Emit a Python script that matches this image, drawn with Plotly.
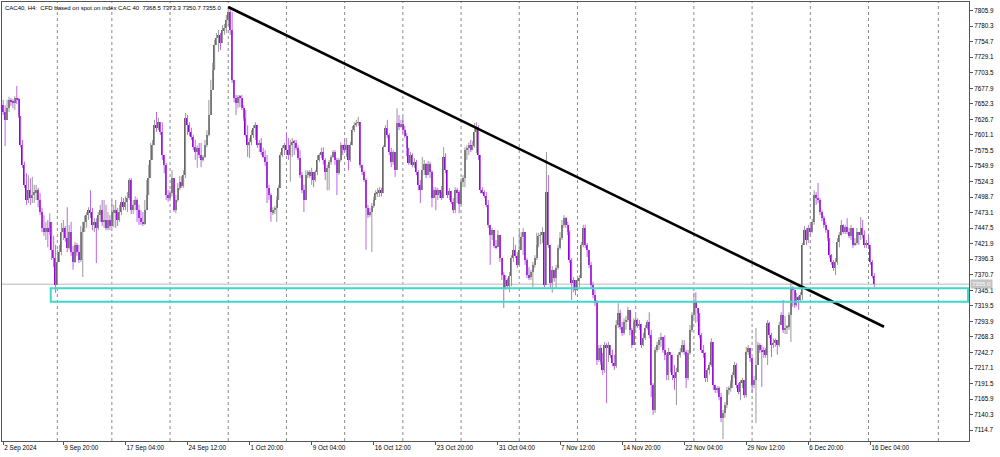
import plotly.graph_objects as go

# ---------------- data (CAC40, H4 bars) ----------------
first_open = 7650
closes = [
    7639, 7626, 7645, 7659, 7657, 7654, 7662, 7660, 7632, 7584,
    7552, 7519, 7494, 7510, 7497, 7502, 7507, 7510, 7494, 7474,
    7448, 7441, 7448, 7441, 7458, 7412, 7398, 7354, 7392, 7408,
    7441, 7448, 7431, 7415, 7441, 7408, 7392, 7420, 7408, 7395,
    7441, 7448, 7458, 7469, 7477, 7474, 7453, 7458, 7448, 7469,
    7477, 7458, 7461, 7448, 7461, 7451, 7474, 7477, 7474, 7461,
    7474, 7491, 7482, 7491, 7497, 7527, 7477, 7486, 7494, 7477,
    7464, 7458, 7454, 7477, 7502, 7530, 7560, 7584, 7617, 7613,
    7622, 7606, 7568, 7552, 7502, 7497, 7505, 7530, 7477, 7494,
    7514, 7524, 7517, 7535, 7629, 7617, 7606, 7598, 7581, 7573,
    7580, 7568, 7560, 7565, 7584, 7601, 7634, 7675, 7708, 7749,
    7761, 7766, 7753, 7774, 7777, 7791, 7804, 7774, 7692, 7662,
    7654, 7664, 7662, 7645, 7629, 7601, 7584, 7590, 7601, 7613,
    7617, 7584, 7588, 7573, 7565, 7557, 7514, 7502, 7474, 7477,
    7481, 7494, 7514, 7568, 7580, 7584, 7576, 7568, 7584, 7590,
    7588, 7580, 7563, 7535, 7510, 7494, 7535, 7540, 7533, 7540,
    7527, 7540, 7560, 7568, 7573, 7560, 7540, 7547, 7557, 7565,
    7573, 7560, 7538, 7560, 7584, 7580, 7576, 7584, 7560, 7584,
    7609, 7617, 7621, 7622, 7552, 7540, 7527, 7481, 7469, 7474,
    7484, 7494, 7505, 7507, 7510, 7505, 7581, 7613, 7601, 7573,
    7557, 7573, 7543, 7621, 7614, 7619, 7609, 7599, 7580, 7555,
    7568, 7552, 7557, 7540, 7519, 7510, 7543, 7553, 7535, 7553,
    7540, 7497, 7510, 7502, 7510, 7507, 7497, 7565, 7543, 7502,
    7509, 7491, 7477, 7510, 7507, 7487, 7524, 7530, 7576, 7580,
    7584, 7576, 7583, 7606, 7614, 7568, 7510, 7507, 7500, 7486,
    7453, 7436, 7444, 7418, 7416, 7436, 7398, 7370, 7349, 7362,
    7352, 7369, 7398, 7412, 7402, 7387, 7412, 7433, 7441, 7395,
    7370, 7367, 7375, 7387, 7398, 7420, 7435, 7436, 7441, 7354,
    7507, 7420, 7357, 7379, 7365, 7382, 7415, 7431, 7453, 7464,
    7453, 7441, 7395, 7357, 7362, 7346, 7362, 7365, 7420, 7448,
    7420, 7412, 7387, 7354, 7337, 7324, 7230, 7250, 7227, 7214,
    7255, 7250, 7255, 7239, 7225, 7220, 7288, 7308, 7285, 7275,
    7293, 7296, 7313, 7280, 7255, 7293, 7296, 7286, 7290, 7255,
    7266, 7283, 7293, 7271, 7189, 7148, 7247, 7255, 7263, 7268,
    7247, 7239, 7206, 7243, 7239, 7206, 7201, 7210, 7239, 7243,
    7255, 7243, 7201, 7242, 7280, 7304, 7326, 7316, 7308, 7271,
    7247, 7242, 7201, 7214, 7222, 7260, 7189, 7181, 7184, 7169,
    7135, 7143, 7156, 7181, 7184, 7192, 7206, 7222, 7189, 7178,
    7194, 7197, 7173, 7243, 7250, 7234, 7189, 7197, 7222, 7255,
    7247, 7243, 7247, 7239, 7291, 7271, 7255, 7258, 7263, 7255,
    7288, 7304, 7280, 7283, 7285, 7304, 7349, 7346, 7321, 7334,
    7329, 7337, 7420, 7444, 7428, 7448, 7441, 7458, 7502, 7497,
    7494, 7474, 7464, 7453, 7444, 7431, 7403, 7392, 7382, 7392,
    7425, 7436, 7453, 7441, 7449, 7441, 7435, 7448, 7420, 7423,
    7441, 7436, 7448, 7436, 7420, 7423, 7420, 7392, 7368.5, 7355.0,
]
highs = [
    7659, 7650, 7659, 7664, 7662, 7660, 7665, 7682, 7662, 7632,
    7593, 7557, 7538, 7535, 7530, 7532, 7519, 7519, 7514, 7505,
    7481, 7469, 7458, 7461, 7472, 7458, 7435, 7420, 7412, 7420,
    7456, 7461, 7451, 7482, 7453, 7458, 7418, 7425, 7423, 7420,
    7451, 7458, 7468, 7474, 7482, 7510, 7481, 7464, 7464, 7474,
    7486, 7494, 7494, 7486, 7474, 7469, 7494, 7486, 7494, 7481,
    7486, 7499, 7497, 7500, 7507, 7530, 7530, 7494, 7500, 7497,
    7486, 7477, 7474, 7494, 7527, 7552, 7588, 7593, 7626, 7639,
    7629, 7622, 7622, 7568, 7555, 7510, 7510, 7543, 7530, 7502,
    7522, 7533, 7533, 7543, 7637, 7634, 7622, 7613, 7601, 7593,
    7584, 7588, 7588, 7568, 7593, 7609, 7659, 7692, 7720, 7758,
    7769, 7774, 7769, 7782, 7784, 7799, 7812, 7810, 7804, 7692,
    7667, 7667, 7667, 7667, 7650, 7642, 7617, 7596, 7609, 7617,
    7622, 7617, 7593, 7596, 7580, 7576, 7568, 7519, 7505, 7482,
    7484, 7500, 7519, 7573, 7584, 7588, 7604, 7596, 7593, 7596,
    7593, 7593, 7584, 7576, 7540, 7519, 7543, 7543, 7543, 7547,
    7535, 7543, 7568, 7571, 7580, 7581, 7563, 7552, 7560, 7568,
    7576, 7576, 7563, 7563, 7589, 7584, 7593, 7596, 7584, 7590,
    7616, 7622, 7626, 7631, 7622, 7552, 7543, 7530, 7486, 7481,
    7489, 7499, 7510, 7514, 7515, 7514, 7584, 7617, 7626, 7604,
    7580, 7576, 7573, 7645, 7634, 7626, 7631, 7616, 7604, 7580,
    7573, 7571, 7563, 7560, 7543, 7527, 7565, 7560, 7555, 7558,
    7557, 7543, 7515, 7515, 7514, 7510, 7517, 7581, 7571, 7543,
    7514, 7502, 7497, 7515, 7514, 7510, 7530, 7535, 7581, 7584,
    7589, 7593, 7591, 7621, 7622, 7617, 7568, 7515, 7510, 7507,
    7494, 7453, 7448, 7444, 7428, 7444, 7436, 7398, 7375, 7370,
    7365, 7375, 7403, 7433, 7420, 7408, 7444, 7441, 7448, 7441,
    7398, 7383, 7379, 7392, 7403, 7440, 7440, 7441, 7449, 7436,
    7573, 7535, 7420, 7385, 7379, 7387, 7420, 7441, 7461, 7469,
    7466, 7458, 7444, 7398, 7367, 7359, 7369, 7370, 7425, 7453,
    7453, 7423, 7412, 7392, 7359, 7346, 7329, 7255, 7255, 7242,
    7260, 7258, 7260, 7255, 7247, 7239, 7296, 7324, 7313, 7293,
    7299, 7303, 7318, 7313, 7283, 7299, 7304, 7299, 7296, 7290,
    7275, 7288, 7296, 7309, 7280, 7192, 7252, 7260, 7268, 7275,
    7268, 7271, 7242, 7250, 7243, 7234, 7222, 7217, 7243, 7250,
    7263, 7263, 7247, 7247, 7288, 7309, 7341, 7342, 7313, 7299,
    7275, 7255, 7243, 7217, 7227, 7266, 7258, 7189, 7187, 7187,
    7176, 7148, 7161, 7186, 7187, 7197, 7210, 7227, 7225, 7192,
    7197, 7201, 7197, 7252, 7255, 7250, 7235, 7204, 7283, 7260,
    7258, 7255, 7252, 7250, 7296, 7293, 7275, 7266, 7266, 7263,
    7293, 7309, 7329, 7303, 7288, 7309, 7357, 7352, 7341, 7341,
    7336, 7342, 7423, 7451, 7448, 7453, 7453, 7463, 7510, 7507,
    7522, 7497, 7477, 7468, 7458, 7446, 7431, 7405, 7395, 7398,
    7431, 7441, 7461, 7454, 7453, 7464, 7448, 7453, 7448, 7431,
    7448, 7441, 7466, 7461, 7444, 7428, 7433, 7420, 7395, 7373.3,
]
lows = [
    7634, 7583, 7626, 7639, 7649, 7645, 7642, 7652, 7629, 7581,
    7547, 7514, 7486, 7489, 7486, 7489, 7489, 7494, 7482, 7469,
    7441, 7435, 7428, 7416, 7436, 7395, 7383, 7341, 7354, 7392,
    7403, 7428, 7425, 7408, 7412, 7402, 7379, 7390, 7402, 7390,
    7392, 7367, 7441, 7448, 7461, 7464, 7444, 7441, 7390, 7444,
    7458, 7451, 7448, 7444, 7444, 7444, 7448, 7449, 7448, 7451,
    7458, 7469, 7477, 7477, 7474, 7494, 7471, 7471, 7477, 7458,
    7453, 7453, 7451, 7453, 7477, 7502, 7530, 7560, 7584, 7606,
    7609, 7601, 7560, 7538, 7494, 7491, 7494, 7500, 7474, 7472,
    7491, 7510, 7514, 7514, 7530, 7601, 7599, 7593, 7576, 7560,
    7547, 7563, 7548, 7557, 7563, 7581, 7599, 7634, 7675, 7708,
    7749, 7738, 7741, 7753, 7766, 7769, 7782, 7766, 7687, 7655,
    7634, 7645, 7647, 7642, 7624, 7598, 7565, 7563, 7584, 7596,
    7593, 7580, 7573, 7568, 7563, 7550, 7489, 7494, 7458, 7469,
    7471, 7458, 7494, 7514, 7565, 7568, 7568, 7560, 7524, 7565,
    7568, 7576, 7560, 7530, 7505, 7474, 7494, 7530, 7530, 7519,
    7515, 7524, 7535, 7557, 7563, 7552, 7527, 7510, 7510, 7552,
    7563, 7552, 7502, 7535, 7557, 7568, 7573, 7565, 7543, 7557,
    7584, 7606, 7614, 7616, 7547, 7535, 7524, 7412, 7464, 7466,
    7408, 7481, 7494, 7499, 7499, 7500, 7505, 7581, 7596, 7568,
    7548, 7552, 7532, 7543, 7609, 7613, 7604, 7596, 7566, 7552,
    7552, 7548, 7547, 7535, 7510, 7489, 7510, 7535, 7530, 7535,
    7530, 7482, 7499, 7477, 7494, 7497, 7494, 7497, 7538, 7497,
    7494, 7487, 7472, 7472, 7489, 7472, 7486, 7515, 7515, 7560,
    7568, 7573, 7580, 7580, 7571, 7560, 7505, 7504, 7497, 7482,
    7448, 7387, 7428, 7415, 7413, 7420, 7392, 7362, 7316, 7346,
    7349, 7342, 7352, 7392, 7398, 7382, 7392, 7412, 7403, 7387,
    7365, 7362, 7362, 7350, 7382, 7395, 7416, 7421, 7423, 7350,
    7354, 7415, 7349, 7341, 7359, 7349, 7379, 7412, 7428, 7448,
    7448, 7436, 7390, 7329, 7342, 7337, 7346, 7350, 7365, 7416,
    7415, 7400, 7382, 7349, 7332, 7319, 7222, 7227, 7222, 7206,
    7209, 7159, 7227, 7234, 7220, 7214, 7217, 7283, 7280, 7270,
    7271, 7280, 7293, 7271, 7250, 7255, 7280, 7283, 7280, 7250,
    7253, 7263, 7280, 7266, 7169, 7140, 7143, 7243, 7247, 7252,
    7242, 7230, 7197, 7197, 7210, 7197, 7181, 7156, 7210, 7234,
    7242, 7239, 7184, 7197, 7239, 7276, 7299, 7291, 7293, 7266,
    7242, 7234, 7194, 7194, 7206, 7219, 7181, 7176, 7176, 7164,
    7128, 7100, 7135, 7151, 7173, 7178, 7184, 7201, 7184, 7174,
    7164, 7184, 7168, 7169, 7239, 7227, 7176, 7184, 7126, 7227,
    7242, 7186, 7234, 7234, 7222, 7266, 7235, 7250, 7252, 7239,
    7252, 7288, 7275, 7273, 7273, 7280, 7260, 7318, 7316, 7318,
    7313, 7326, 7329, 7420, 7420, 7423, 7436, 7440, 7453, 7486,
    7489, 7469, 7459, 7448, 7440, 7426, 7398, 7387, 7377, 7370,
    7387, 7416, 7435, 7438, 7438, 7438, 7431, 7428, 7415, 7418,
    7420, 7420, 7428, 7431, 7415, 7415, 7415, 7387, 7365, 7350.7,
]

x_tick_bars = [0, 31, 63, 95, 127, 159, 191, 223, 255, 287, 319, 351, 383, 415, 447]
x_tick_labels = ["2 Sep 2024", "9 Sep 20:00", "17 Sep 04:00", "24 Sep 12:00", "1 Oct 20:00",
                 "9 Oct 04:00", "16 Oct 12:00", "23 Oct 20:00", "31 Oct 04:00", "7 Nov 12:00",
                 "14 Nov 20:00", "22 Nov 04:00", "29 Nov 12:00", "6 Dec 20:00", "16 Dec 04:00"]
grid_bars = [27.9, 56, 86, 116, 146, 176, 206, 236, 266, 296, 326, 356, 386, 416, 446, 482]
y_tick_labels = ["7805.9", "7780.3", "7754.7", "7729.1", "7703.5", "7677.9", "7652.3", "7626.7",
                 "7601.1", "7575.5", "7549.9", "7524.3", "7498.7", "7473.1", "7447.5", "7421.9",
                 "7396.3", "7370.7", "7345.1", "7319.5", "7293.9", "7268.3", "7242.7", "7217.1",
                 "7191.5", "7165.9", "7140.3", "7114.7"]
trend_bars = [116, 454]
trend_prices = [7812, 7285]
zone_bars = [24.5, 497.3]
zone_prices = [7326.3, 7348.4]
last_price = 7355.0
header_text = "CAC40, H4:  CFD based on spot on index CAC 40  7368.5 7373.3 7350.7 7355.0"

# ---------------- build ----------------
n = len(closes)
idx = list(range(n))
opens = [first_open] + closes[:-1]
his = [max(h, o, c) for h, o, c in zip(highs, opens, closes)]
los = [min(l, o, c) for l, o, c in zip(lows, opens, closes)]

BULL = "#666666"
BEAR = "#9400d3"
BULL_W = "#999999"
BEAR_W = "#bb66e8"

bases, heights, cols = [], [], []
wx_up, wy_up, wx_dn, wy_dn = [], [], [], []
for i, o, c, h, l in zip(idx, opens, closes, his, los):
    bases.append(min(o, c))
    heights.append(max(abs(c - o), 1.2))
    up = c >= o
    cols.append(BULL if up else BEAR)
    if up:
        wx_up += [i, i, None]
        wy_up += [l, h, None]
    else:
        wx_dn += [i, i, None]
        wy_dn += [l, h, None]

fig = go.Figure()
fig.add_trace(go.Scatter(x=wx_up, y=wy_up, mode="lines", line=dict(color=BULL_W, width=1),
                         hoverinfo="skip"))
fig.add_trace(go.Scatter(x=wx_dn, y=wy_dn, mode="lines", line=dict(color=BEAR_W, width=1),
                         hoverinfo="skip"))
fig.add_trace(go.Bar(x=idx, y=heights, base=bases, width=0.75, marker=dict(color=cols, line=dict(width=0)),
                     hoverinfo="skip"))
fig.add_trace(go.Scatter(x=trend_bars, y=trend_prices, mode="lines",
                         line=dict(color="black", width=2.6), hoverinfo="skip"))

shapes = []
for g in grid_bars:
    shapes.append(dict(type="line", xref="x", yref="paper", x0=g, x1=g, y0=0, y1=1,
                       line=dict(color="#8a8a8a", width=1, dash="dot"), layer="below"))
shapes.append(dict(type="line", xref="paper", yref="y", x0=0, x1=1, y0=last_price, y1=last_price,
                   line=dict(color="#cfcfcf", width=1.5), layer="below"))
shapes.append(dict(type="rect", xref="x", yref="y", x0=zone_bars[0], x1=zone_bars[1],
                   y0=zone_prices[0], y1=zone_prices[1],
                   line=dict(color="#3fd8ca", width=2), fillcolor="rgba(0,0,0,0)", layer="above"))

FONT = "Liberation Sans, Arial, sans-serif"
fig.update_layout(
    width=1000, height=457,
    margin=dict(l=2, r=31, t=2, b=16, autoexpand=False),
    paper_bgcolor="white", plot_bgcolor="white",
    showlegend=False, bargap=0,
    font=dict(family=FONT, size=6, color="black"),
    shapes=shapes,
    annotations=[
        dict(text=header_text, xref="paper", yref="paper", x=0, y=1, xanchor="left", yanchor="top",
             xshift=1, yshift=-1, showarrow=False, font=dict(family=FONT, size=6, color="black")),
        dict(text=f"{last_price:.1f}", xref="paper", yref="y", x=1, y=last_price, xanchor="left",
             yanchor="middle", xshift=1, showarrow=False, bgcolor="#c4c4c4", borderpad=1,
             font=dict(family=FONT, size=6, color="white")),
    ],
)
fig.update_xaxes(
    range=[-0.62, 497.8], tickmode="array", tickvals=x_tick_bars, ticktext=x_tick_labels,
    ticks="outside", ticklen=3, tickcolor="#555555", ticklabelposition="outside right",
    showgrid=False, zeroline=False, showline=True, linecolor="#555555", linewidth=1, mirror=True,
    tickfont=dict(family=FONT, size=6.3, color="black"), fixedrange=True,
)
fig.update_yaxes(
    side="right", range=[7096.8, 7820.2], tickmode="array",
    tickvals=[float(v) for v in y_tick_labels], ticktext=y_tick_labels,
    ticks="outside", ticklen=3, tickcolor="#555555",
    showgrid=False, zeroline=False, showline=True, linecolor="#555555", linewidth=1, mirror=True,
    tickfont=dict(family=FONT, size=6.3, color="black"), fixedrange=True,
)

fig.write_html("out.html", config={"displayModeBar": False},
               post_script="document.body.style.margin='0';document.body.style.padding='0';")
